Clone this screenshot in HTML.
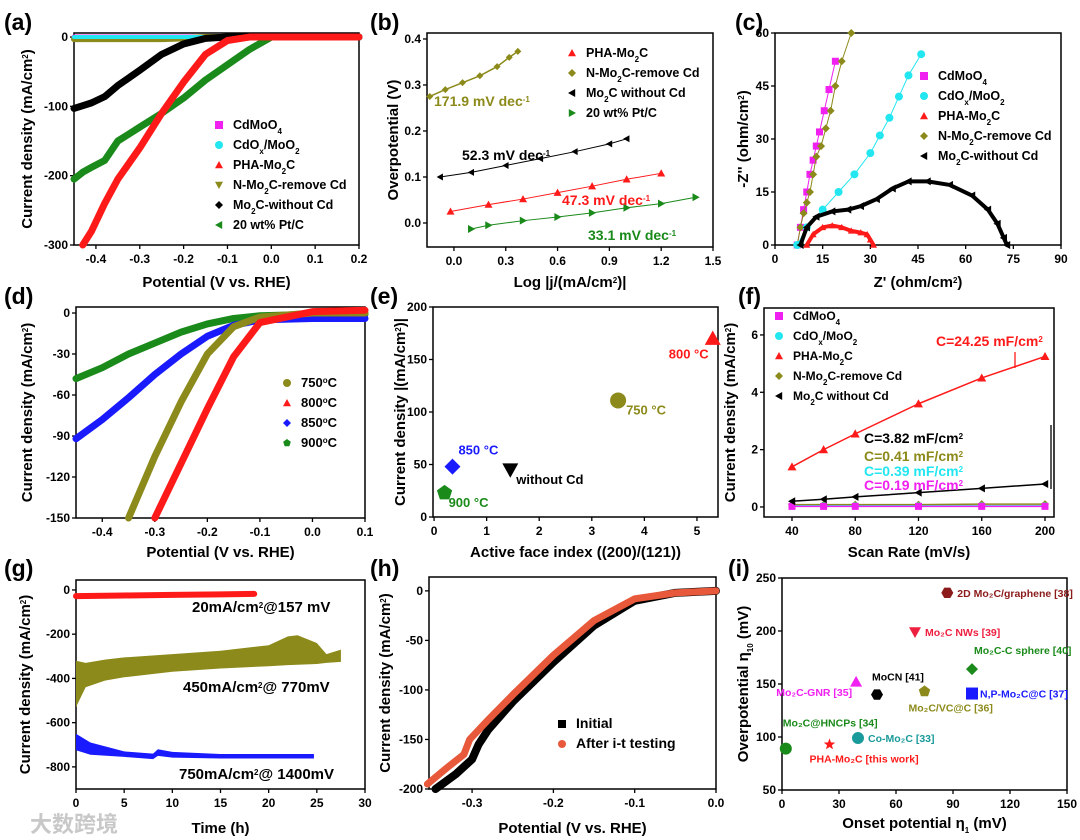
<!DOCTYPE html>
<html><head><meta charset="utf-8">
<style>
html,body{margin:0;padding:0;background:#fff}
svg{display:block}
text{font-family:"Liberation Sans","Noto Sans CJK SC",sans-serif;font-weight:bold}
</style></head>
<body>
<svg id="fig" width="1080" height="840" viewBox="0 0 1080 840" xmlns="http://www.w3.org/2000/svg"></svg>
<script>
// ---------- data ----------
const aPotential=[-0.45,-0.43,-0.41,-0.38,-0.35,-0.3,-0.25,-0.2,-0.15,-0.1,-0.05,0,0.2];
const aPHA=[null,-300,-280,-240,-205,-160,-110,-65,-25,-5,0,0,0];
const aPtC=[-205,-195,-188,-178,-150,-130,-110,-88,-62,-40,-18,0,0];
const aNoCd=[-103,-99,-95,-86,-70,-48,-25,-10,-2,0,0,0,0];
const aRemoveCd=[-3,-3,-3,-3,-3,-3,-3,-2,0,0,0,0,0];
const aCdOx=[0,0,0,0,0,0,0,0,0,0,0,0,0];
const bOliveX=[-0.14,-0.05,0.05,0.15,0.25,0.32,0.37];
const bOliveY=[0.275,0.29,0.305,0.32,0.34,0.36,0.373];
const bBlackX=[-0.08,0.1,0.3,0.5,0.7,0.9,1.0];
const bBlackY=[0.10,0.11,0.125,0.14,0.155,0.172,0.183];
const bRedX=[-0.02,0.2,0.4,0.6,0.8,1.0,1.2];
const bRedY=[0.025,0.04,0.052,0.066,0.08,0.095,0.108];
const bGreenX=[0.1,0.2,0.4,0.6,0.8,1.0,1.2,1.4];
const bGreenY=[-0.013,-0.005,0.005,0.013,0.022,0.033,0.042,0.056];
const cMagX=[7,8,9,10,11,12,13,14,15.5,17,19];
const cMagY=[0,5,10,15,20,24,28,32,38,44,52];
const cOliveX=[7,8,9,10,11,12,13,14.5,16,17.5,19,21,24];
const cOliveY=[0,5,9,12,15,20,25,28,33,38,45,52,60];
const cCyanX=[7,10,15,20,25,30,33,36,39,42,46];
const cCyanY=[0,5,10,15,20,26,31,36,42,48,54];
const cBlackX=[8,10,13,18,23,27,32,37,42,48,55,62,67,70,72,73];
const cBlackY=[0,5,8,9.5,10,11,13,16,18,18,17,14,10,6,2,0];
const cRedX=[10,12,15,18,21,24,27,29,30,31];
const cRedY=[0,3,5,5.5,5,4,3.5,3,1.5,0];
const dPotential=[-0.45,-0.4,-0.35,-0.3,-0.25,-0.2,-0.15,-0.1,0,0.1];
const d750=[null,null,-150,-105,-65,-30,-10,-3,0,0];
const d800=[null,null,null,-150,-110,-70,-32,-7,1,2];
const d850=[-92,-78,-62,-45,-30,-17,-9,-5,-4,-4];
const d900=[-48,-40,-30,-22,-14,-8,-4,-2,-1,-1];
const eIndex=[3.5,5.3,0.35,0.2,1.45];
const eCurrent=[111,170,48,23,45];
const eLabels=["750 °C","800 °C","850 °C","900 °C","without Cd"];
const fRate=[40,60,80,120,160,200];
const fPHA=[1.4,2.0,2.55,3.6,4.5,5.25];
const fNoCd=[0.2,0.27,0.35,0.5,0.65,0.8];
const fRemove=[0.08,0.08,0.08,0.08,0.1,0.1];
const fCyan=[0.04,0.04,0.04,0.04,0.04,0.04];
const fMag=[0.02,0.02,0.02,0.02,0.02,0.02];
const gRedT=[0,5,10,15,18.5];
const gRedJ=[-28,-25,-22,-20,-18];
const gOliveT=[0,1,3,5,10,15,20,22,23,25,26,27.5];
const gOliveTop=[-320,-330,-315,-305,-290,-275,-250,-210,-205,-240,-290,-270];
const gOliveBot=[-530,-440,-410,-395,-370,-355,-345,-340,-338,-335,-330,-325];
const gBlueT=[0,1.5,5,8,8.5,10,15,20,24.7];
const gBlueTop=[-650,-690,-730,-740,-720,-732,-742,-742,-742];
const gBlueBot=[-725,-745,-755,-765,-750,-758,-762,-762,-762];
const hInitV=[-0.345,-0.32,-0.3,-0.292,-0.28,-0.25,-0.2,-0.15,-0.1,-0.05,0];
const hInitJ=[-200,-185,-170,-155,-140,-112,-72,-35,-10,-2,0];
const hAfterV=[-0.355,-0.33,-0.31,-0.303,-0.28,-0.25,-0.2,-0.15,-0.1,-0.05,0];
const hAfterJ=[-195,-178,-165,-150,-130,-105,-65,-30,-8,-2,0];
const iOnset=[87,70,100,39,50,75,100,2,40,25];
const iOver=[236,199,164,152,140,143,141,89,99,93];
const iNames=["2D Mo₂C/graphene [38]","Mo₂C NWs [39]","Mo₂C-C sphere [40]","Mo₂C-GNR [35]","MoCN [41]","Mo₂C/VC@C [36]","N,P-Mo₂C@C [37]","Mo₂C@HNCPs [34]","Co-Mo₂C [33]","PHA-Mo₂C [this work]"];

// ---------- helpers ----------
const NS="http://www.w3.org/2000/svg";
const svg=document.getElementById('fig');
function mk(tag,parent,name,inter){
  const el=document.createElementNS(NS,tag);
  
  
  (parent||svg).appendChild(el);return el;
}
function set(el,o){for(const k in o)el.setAttribute(k,o[k]);return el;}
function txt(p,name,x,y,s,size,fill,anchor,rot){
  const t=mk('text',p,name);
  set(t,{x:x,y:y,'font-size':size||12,fill:fill||'#000','text-anchor':anchor||'start'});
  if(rot)t.setAttribute('transform','rotate(-90 '+x+' '+y+')');
  t.innerHTML=s;return t;
}
function panel(o){
  const g=mk('g',svg,'panel-'+o.id);
  o.sx=v=>o.x0+(v-o.xd[0])/(o.xd[1]-o.xd[0])*(o.x1-o.x0);
  o.sy=v=>o.y1-(v-o.yd[0])/(o.yd[1]-o.yd[0])*(o.y1-o.y0);
  o.g=g;
  const ax=mk('g',g,o.id+'-x-axis');
  o.xt.forEach((v,i)=>{const X=o.sx(v);
    const l=mk('line',ax,'x-tick');set(l,{x1:X,x2:X,y1:o.y1,y2:o.y1+4,stroke:'#000','stroke-width':1.3});
    txt(ax,'x-tick-label',X,o.y1+18,o.xl[i],12,'#000','middle');});
  const ay=mk('g',g,o.id+'-y-axis');
  o.yt.forEach((v,i)=>{const Y=o.sy(v);
    const l=mk('line',ay,'y-tick');set(l,{x1:o.x0-4,x2:o.x0,y1:Y,y2:Y,stroke:'#000','stroke-width':1.3});
    txt(ay,'y-tick-label',o.x0-6,Y+4,o.yl[i],12,'#000','end');});
  const r=mk('rect',g,o.id+'-plot-frame');
  set(r,{x:o.x0,y:o.y0,width:o.x1-o.x0,height:o.y1-o.y0,fill:'none',stroke:'#000','stroke-width':1.5});
  txt(g,o.id+'-x-axis-title',(o.x0+o.x1)/2,o.xty,o.xtitle,15,'#000','middle');
  txt(g,o.id+'-y-axis-title',o.ytx,(o.y0+o.y1)/2,o.ytitle,15,'#000','middle',true);
  txt(g,o.id+'-panel-label',o.lx,o.ly,'('+o.id+')',23,'#000','start');
  return o;
}
function shape(p,name,kind,x,y,s,c){
  let el;
  if(kind==='circ'){el=mk('circle',p,name);set(el,{cx:x,cy:y,r:s/2,fill:c});return el;}
  if(kind==='sq'){el=mk('rect',p,name);set(el,{x:x-s/2,y:y-s/2,width:s,height:s,fill:c});return el;}
  let pts;const h=s/2;
  if(kind==='tri')pts=[[x,y-h],[x+h,y+h*0.8],[x-h,y+h*0.8]];
  else if(kind==='down')pts=[[x-h,y-h*0.8],[x+h,y-h*0.8],[x,y+h]];
  else if(kind==='dia')pts=[[x,y-h],[x+h,y],[x,y+h],[x-h,y]];
  else if(kind==='left')pts=[[x-h,y],[x+h*0.8,y-h],[x+h*0.8,y+h]];
  else if(kind==='right')pts=[[x+h,y],[x-h*0.8,y-h],[x-h*0.8,y+h]];
  else if(kind==='pent'){pts=[];for(let i=0;i<5;i++){const a=-Math.PI/2+i*2*Math.PI/5;pts.push([x+h*Math.cos(a),y+h*Math.sin(a)]);}}
  else if(kind==='hex'){pts=[];for(let i=0;i<6;i++){const a=i*Math.PI/3;pts.push([x+h*Math.cos(a),y+h*Math.sin(a)]);}}
  else if(kind==='star'){pts=[];for(let i=0;i<10;i++){const a=-Math.PI/2+i*Math.PI/5,r=i%2?h*0.42:h;pts.push([x+r*Math.cos(a),y+r*Math.sin(a)]);}}
  el=mk('polygon',p,name);set(el,{points:pts.map(q=>q.join(',')).join(' '),fill:c});return el;
}
function series(P,name,xs,ys,c,kind,sw,ms){
  const g=mk('g',P.g,name);
  const pts=[];xs.forEach((x,i)=>{if(ys[i]!==null&&ys[i]!==undefined)pts.push([P.sx(x),P.sy(ys[i])]);});
  if(sw){const l=mk('polyline',g,name+'-line');set(l,{points:pts.map(q=>q.join(',')).join(' '),fill:'none',stroke:c,'stroke-width':sw,'stroke-linejoin':'round','stroke-linecap':'round'});}
  if(kind)pts.forEach(q=>shape(g,name+'-marker',kind,q[0],q[1],ms||7,c));
  return g;
}
function band(P,name,xs,top,bot,c){
  const pts=xs.map((x,i)=>[P.sx(x),P.sy(top[i])]).concat(xs.map((x,i)=>[P.sx(x),P.sy(bot[i])]).reverse());
  const el=mk('polygon',P.g,name);set(el,{points:pts.map(q=>q.join(',')).join(' '),fill:c});
}
function legend(P,items,x,y,dy,size){
  const g=mk('g',P.g,P.id+'-legend');
  items.forEach((it,i)=>{const e=mk('g',g,'legend-entry');
    shape(e,'legend-marker',it[1],x,y+i*dy-4,8,it[2]);
    txt(e,'legend-label',x+14,y+i*dy,it[0],size||13,it[3]||'#000');});
}
const RED='#ff1a1a',OLIVE='#8c8a1a',GREEN='#1a8a1a',BLK='#000',CY='#22e6f0',MAG='#f020f0',BLUE='#1a1aff';
const sub=s=>'<tspan font-size="8" baseline-shift="sub">'+s+'</tspan>';
const sup=s=>'<tspan font-size="8" baseline-shift="super">'+s+'</tspan>';

// (a)
const A=panel({id:'a',x0:74,x1:359,y0:33,y1:245,xd:[-0.45,0.2],yd:[-300,5.8],
 xt:[-0.4,-0.3,-0.2,-0.1,0,0.1,0.2],xl:['-0.4','-0.3','-0.2','-0.1','0.0','0.1','0.2'],
 yt:[0,-100,-200,-300],yl:['0','-100','-200','-300'],xtitle:'Potential (V vs. RHE)',xty:287,
 ytitle:'Current density (mA/cm'+sup('2')+')',ytx:32,lx:4,ly:30});
series(A,'cdmoo4-curve',aPotential,aCdOx,MAG,null,5);
series(A,'n-mo2c-remove-cd-curve',aPotential,aRemoveCd,OLIVE,null,6);
series(A,'cdox-moo2-curve',aPotential,aCdOx,CY,null,4);
series(A,'mo2c-without-cd-curve',aPotential,aNoCd,BLK,null,7);
series(A,'ptc-curve',aPotential,aPtC,GREEN,null,7);
series(A,'pha-mo2c-curve',aPotential,aPHA,RED,null,7);
legend(A,[['CdMoO'+sub('4'),'sq',MAG],['CdO'+sub('x')+'/MoO'+sub('2'),'circ',CY],['PHA-Mo'+sub('2')+'C','tri',RED],['N-Mo'+sub('2')+'C-remove Cd','down',OLIVE],['Mo'+sub('2')+'C-without Cd','dia',BLK],['20 wt% Pt/C','left',GREEN]],219,129,20,12.5);

// (b)
const B=panel({id:'b',x0:427,x1:713,y0:33,y1:247,xd:[-0.156,1.5],yd:[-0.0522,0.413],
 xt:[0,0.3,0.6,0.9,1.2,1.5],xl:['0.0','0.3','0.6','0.9','1.2','1.5'],
 yt:[0,0.1,0.2,0.3,0.4],yl:['0.0','0.1','0.2','0.3','0.4'],xtitle:'Log |j/(mA/cm'+sup('2')+')|',xty:287,
 ytitle:'Overpotential (V)',ytx:398,lx:370,ly:30});
series(B,'n-mo2c-tafel',bOliveX,bOliveY,OLIVE,'dia',1.5,7);
series(B,'mo2c-no-cd-tafel',bBlackX,bBlackY,BLK,'left',1,7);
series(B,'pha-tafel',bRedX,bRedY,RED,'tri',1,8);
series(B,'ptc-tafel',bGreenX,bGreenY,GREEN,'right',1,8);
txt(B.g,'slope-171',434,106,'171.9 mV dec'+sup('-1'),14,OLIVE,'start');
txt(B.g,'slope-52',462,160,'52.3 mV dec'+sup('-1'),14,BLK,'start');
txt(B.g,'slope-47',562,205,'47.3 mV dec'+sup('-1'),14,RED,'start');
txt(B.g,'slope-33',588,240,'33.1 mV dec'+sup('-1'),14,GREEN,'start');
legend(B,[['PHA-Mo'+sub('2')+'C','tri',RED],['N-Mo'+sub('2')+'C-remove Cd','dia',OLIVE],['Mo'+sub('2')+'C without Cd','left',BLK],['20 wt% Pt/C','right',GREEN]],572,57,20,12.5);

// (c)
const C=panel({id:'c',x0:775,x1:1061,y0:33,y1:245,xd:[0,90],yd:[0,60],
 xt:[0,15,30,45,60,75,90],xl:['0','15','30','45','60','75','90'],
 yt:[0,15,30,45,60],yl:['0','15','30','45','60'],xtitle:"Z' (ohm/cm"+sup('2')+')',xty:287,
 ytitle:'-Z\'\' (ohm/cm'+sup('2')+')',ytx:748,lx:735,ly:30});
series(C,'cdmoo4-eis',cMagX,cMagY,MAG,'sq',1,7);
series(C,'n-mo2c-eis',cOliveX,cOliveY,OLIVE,'dia',1,8);
series(C,'cdox-eis',cCyanX,cCyanY,CY,'circ',1,8);
series(C,'mo2c-no-cd-eis',cBlackX,cBlackY,BLK,'left',4,8);
series(C,'pha-eis',cRedX,cRedY,RED,'tri',4,7);
legend(C,[['CdMoO'+sub('4'),'sq',MAG],['CdO'+sub('x')+'/MoO'+sub('2'),'circ',CY],['PHA-Mo'+sub('2')+'C','tri',RED],['N-Mo'+sub('2')+'C-remove Cd','dia',OLIVE],['Mo'+sub('2')+'C-without Cd','left',BLK]],924,80,20,12.5);

// (d)
const D=panel({id:'d',x0:76,x1:365,y0:307,y1:518,xd:[-0.45,0.1],yd:[-150,4.4],
 xt:[-0.4,-0.3,-0.2,-0.1,0,0.1],xl:['-0.4','-0.3','-0.2','-0.1','0.0','0.1'],
 yt:[0,-30,-60,-90,-120,-150],yl:['0','-30','-60','-90','-120','-150'],xtitle:'Potential (V vs. RHE)',xty:557,
 ytitle:'Current density (mA/cm'+sup('2')+')',ytx:32,lx:4,ly:304});
series(D,'900c-curve',dPotential,d900,GREEN,null,7);
series(D,'850c-curve',dPotential,d850,BLUE,null,7);
series(D,'750c-curve',dPotential,d750,OLIVE,null,7);
series(D,'800c-curve',dPotential,d800,RED,null,7);
legend(D,[['750'+sup('o')+'C','circ',OLIVE],['800'+sup('o')+'C','tri',RED],['850'+sup('o')+'C','dia',BLUE],['900'+sup('o')+'C','pent',GREEN]],287,387,20,13);

// (e)
const E=panel({id:'e',x0:433,x1:718,y0:307,y1:517,xd:[-0.02,5.4],yd:[0,200],
 xt:[0,1,2,3,4,5],xl:['0','1','2','3','4','5'],
 yt:[0,50,100,150,200],yl:['0','50','100','150','200'],xtitle:'Active face index ((200)/(121))',xty:557,
 ytitle:'Current density |(mA/cm'+sup('2')+')|',ytx:405,lx:370,ly:304});
const eKinds=['circ','tri','dia','pent','down'],eCols=[OLIVE,RED,BLUE,GREEN,BLK];
const eOff=[[8,14],[-44,20],[6,-12],[4,14],[6,14]];
eIndex.forEach((v,i)=>{const X=E.sx(v),Y=E.sy(eCurrent[i]);
  shape(E.g,'point-'+i,eKinds[i],X,Y,16,eCols[i]);
  txt(E.g,'point-label-'+i,X+eOff[i][0],Y+eOff[i][1],eLabels[i],13,eCols[i],'start');});

// (f)
const F=panel({id:'f',x0:764,x1:1054,y0:308,y1:517,xd:[22.3,205.7],yd:[-0.35,6.94],
 xt:[40,80,120,160,200],xl:['40','80','120','160','200'],
 yt:[0,2,4,6],yl:['0','2','4','6'],xtitle:'Scan Rate (mV/s)',xty:557,
 ytitle:'Current density (mA/cm'+sup('2')+')',ytx:735,lx:738,ly:304});
series(F,'remove-cd-cv',fRate,fRemove,OLIVE,'dia',1.5,8);
series(F,'cdox-cv',fRate,fCyan,CY,'circ',1.5,7);
series(F,'cdmoo4-cv',fRate,fMag,MAG,'sq',1.5,7);
series(F,'no-cd-cv',fRate,fNoCd,BLK,'left',1.5,8);
series(F,'pha-cv',fRate,fPHA,RED,'tri',1.5,9);
legend(F,[['CdMoO'+sub('4'),'sq',MAG],['CdO'+sub('x')+'/MoO'+sub('2'),'circ',CY],['PHA-Mo'+sub('2')+'C','tri',RED],['N-Mo'+sub('2')+'C-remove Cd','dia',OLIVE],['Mo'+sub('2')+'C without Cd','left',BLK]],779,320,20,12);
txt(F.g,'c-pha-label',936,346,'C=24.25 mF/cm'+sup('2'),14,RED,'start');
txt(F.g,'c-nocd-label',864,443,'C=3.82 mF/cm'+sup('2'),14,BLK,'start');
txt(F.g,'c-remove-label',864,461,'C=0.41 mF/cm'+sup('2'),14,OLIVE,'start');
txt(F.g,'c-cyan-label',864,476,'C=0.39 mF/cm'+sup('2'),14,CY,'start');
txt(F.g,'c-mag-label',864,490,'C=0.19 mF/cm'+sup('2'),14,MAG,'start');
const ar1=mk('line',F.g,'arrow-pha');set(ar1,{x1:1015,y1:352,x2:1015,y2:368,stroke:RED,'stroke-width':1.3});
const ar2=mk('line',F.g,'arrow-low');set(ar2,{x1:1051,y1:425,x2:1051,y2:489,stroke:BLK,'stroke-width':1.3});

// (g)
const G=panel({id:'g',x0:76,x1:365,y0:580,y1:789,xd:[0,30],yd:[-900,45],
 xt:[0,5,10,15,20,25,30],xl:['0','5','10','15','20','25','30'],
 yt:[0,-200,-400,-600,-800],yl:['0','-200','-400','-600','-800'],xtitle:'Time (h)',xty:833,
 ytitle:'Current density (mA/cm'+sup('2')+')',ytx:30,lx:4,ly:576});
band(G,'450-band',gOliveT,gOliveTop,gOliveBot,OLIVE);
band(G,'750-band',gBlueT,gBlueTop,gBlueBot,BLUE);
series(G,'20-line',gRedT,gRedJ,RED,null,6);
txt(G.g,'label-20',192,612,'20mA/cm'+sup('2')+'@157 mV',15,BLK,'start');
txt(G.g,'label-450',183,692,'450mA/cm'+sup('2')+'@ 770mV',15,BLK,'start');
txt(G.g,'label-750',179,779,'750mA/cm'+sup('2')+'@ 1400mV',15,BLK,'start');

// (h)
const H=panel({id:'h',x0:429,x1:716,y0:577,y1:789,xd:[-0.353,0],yd:[-200,14],
 xt:[-0.3,-0.2,-0.1,0],xl:['-0.3','-0.2','-0.1','0.0'],
 yt:[0,-50,-100,-150,-200],yl:['0','-50','-100','-150','-200'],xtitle:'Potential (V vs. RHE)',xty:833,
 ytitle:'Current density (mA/cm'+sup('2')+')',ytx:390,lx:370,ly:576});
series(H,'initial-curve',hInitV,hInitJ,BLK,null,8);
series(H,'after-it-curve',hAfterV,hAfterJ,'#e8583a',null,7);
legend(H,[['Initial','sq',BLK],['After i-t testing','circ','#e8583a']],562,728,20,14);

// (i)
const I=panel({id:'i',x0:782,x1:1067,y0:578,y1:790,xd:[0,150],yd:[50,250],
 xt:[0,30,60,90,120,150],xl:['0','30','60','90','120','150'],
 yt:[50,100,150,200,250],yl:['50','100','150','200','250'],xtitle:'Onset potential η'+sub('1')+' (mV)',xty:828,
 ytitle:'Overpotential η'+sub('10')+' (mV)',ytx:748,lx:728,ly:576});
const iKinds=['hex','down','dia','tri','hex','pent','sq','circ','circ','star'];
const iCols=['#8b1a1a','#ee2040',GREEN,MAG,BLK,OLIVE,BLUE,GREEN,'#1a9a9a',RED];
const iLab=[[10,4,'start'],[10,4,'start'],[2,-15,'start'],[-4,14,'end'],[-5,-14,'start'],[-16,20,'start'],[8,4,'start'],[-3,-22,'start'],[10,4,'start'],[-20,18,'start']];
iOnset.forEach((v,i)=>{const X=I.sx(v),Y=I.sy(iOver[i]);
  shape(I.g,'ref-point-'+i,iKinds[i],X,Y,12,iCols[i]);
  txt(I.g,'ref-label-'+i,X+iLab[i][0],Y+iLab[i][1],iNames[i],10.5,iCols[i],iLab[i][2]);});

// watermark
txt(svg,'watermark',30,832,'大数跨境',22,'#c8c8c8','start');
</script>
</body></html>
